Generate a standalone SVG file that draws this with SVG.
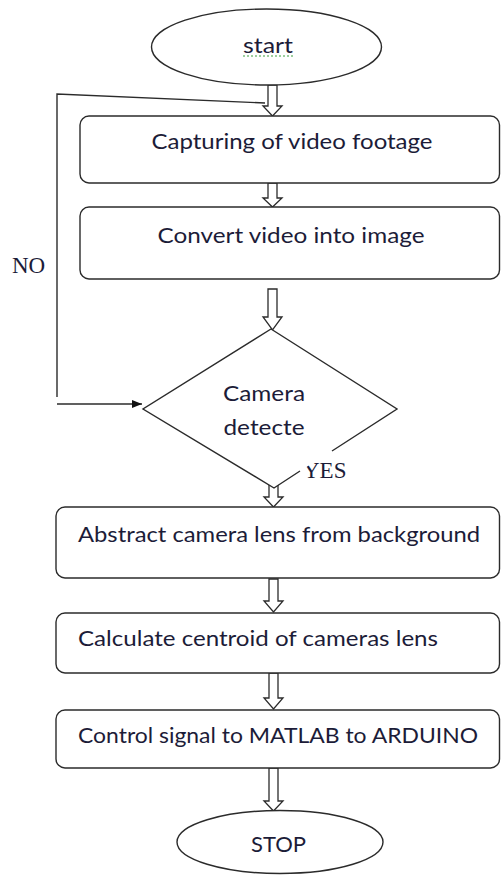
<svg xmlns="http://www.w3.org/2000/svg" width="501" height="875" viewBox="0 0 501 875">
<style>
.shape{fill:#fff;stroke:#2b2b2b;stroke-width:1.4}
.blk{fill:#fff;stroke:#2b2b2b;stroke-width:1.3;stroke-linejoin:miter}
.ln{fill:none;stroke:#2b2b2b;stroke-width:1.4}
.t{font-family:Lato,"Open Sans",sans-serif;font-size:21px;fill:#1c1c38}
.s{font-family:"Liberation Serif",serif;font-size:23px;fill:#1c1c38}
</style>
<defs>
<marker id="ah" viewBox="0 0 10 10" refX="10" refY="5" markerWidth="10" markerHeight="10" markerUnits="userSpaceOnUse" orient="auto">
<path d="M0,1 L10,5 L0,9 Z" fill="#111"/>
</marker>
</defs>
<g id="connectors">
<path class="blk" d="M268,85 L277,85 L277,106 L282,106 L272.5,116 L263,106 L268,106 Z"/>
<path class="blk" d="M268,183 L277,183 L277,198 L282,198 L272.5,207 L263,198 L268,198 Z"/>
<path class="blk" d="M268,289 L277,289 L277,317 L282,317 L272.5,330 L263,317 L268,317 Z"/>
<path class="blk" d="M269,472 L278,472 L278,497 L283,497 L273.5,507 L264,497 L269,497 Z"/>
<path class="blk" d="M269,579 L278,579 L278,601 L283,601 L273.5,612 L264,601 L269,601 Z"/>
<path class="blk" d="M269,673 L278,673 L278,698 L283,698 L273.5,709 L264,698 L269,698 Z"/>
<path class="blk" d="M269,768 L278,768 L278,801 L283,801 L273.5,811 L264,801 L269,801 Z"/>
<path class="ln" d="M265,103 L57,94 L57,397"/>
<line class="ln" x1="57" y1="404" x2="142" y2="404" marker-end="url(#ah)"/>
<text class="s" x="12" y="273">NO</text>
<text class="s" x="303" y="478">YES</text>
</g>
<g id="start">
<ellipse class="shape" cx="266.5" cy="47" rx="115" ry="38"/>
<text class="t" x="268" y="53" text-anchor="middle" textLength="50" lengthAdjust="spacingAndGlyphs">start</text>
<line x1="243" y1="56" x2="293" y2="56" stroke="#3ca03c" stroke-width="1.2" stroke-dasharray="2,2"/>
</g>
<g id="capture">
<rect class="shape" x="80" y="116" width="419.5" height="67" rx="9"/>
<text class="t" x="292" y="149" text-anchor="middle" textLength="281" lengthAdjust="spacingAndGlyphs">Capturing of video footage</text>
</g>
<g id="convert">
<rect class="shape" x="80" y="207" width="419.5" height="72" rx="9"/>
<text class="t" x="291" y="243" text-anchor="middle" textLength="267" lengthAdjust="spacingAndGlyphs">Convert video into image</text>
</g>
<g id="decision">
<path class="shape" d="M332,451 L397,409 L271,329 L143,409 L274,488 L300,471"/>
<text class="t" x="264" y="401" text-anchor="middle" textLength="82" lengthAdjust="spacingAndGlyphs">Camera</text>
<text class="t" x="264" y="435" text-anchor="middle" textLength="81" lengthAdjust="spacingAndGlyphs">detecte</text>
</g>
<g id="abstract">
<rect class="shape" x="56" y="507" width="443.5" height="71" rx="9"/>
<text class="t" x="78" y="542" textLength="402" lengthAdjust="spacingAndGlyphs">Abstract camera lens from background</text>
</g>
<g id="centroid">
<rect class="shape" x="56" y="613" width="443.5" height="60" rx="9"/>
<text class="t" x="78" y="646" textLength="360" lengthAdjust="spacingAndGlyphs">Calculate centroid of cameras lens</text>
</g>
<g id="control">
<rect class="shape" x="56" y="710" width="443.5" height="58" rx="9"/>
<text class="t" x="78" y="743" textLength="400" lengthAdjust="spacingAndGlyphs">Control signal to MATLAB to ARDUINO</text>
</g>
<g id="stop">
<ellipse class="shape" cx="280" cy="842" rx="103" ry="31.5"/>
<text class="t" x="278.5" y="852" text-anchor="middle" textLength="55" lengthAdjust="spacingAndGlyphs">STOP</text>
</g>
</svg>
